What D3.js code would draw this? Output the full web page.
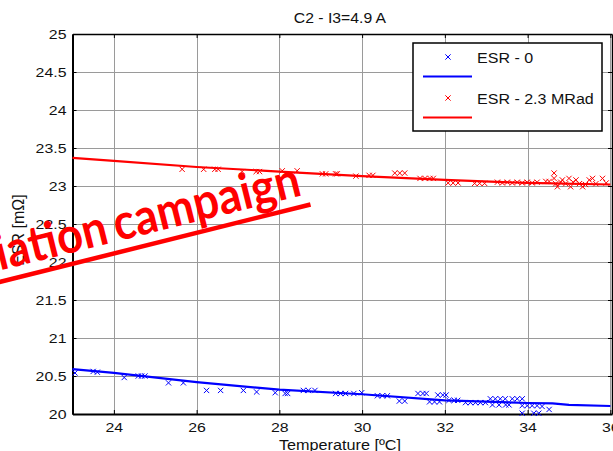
<!DOCTYPE html>
<html>
<head>
<meta charset="utf-8">
<script src="https://cdn.jsdelivr.net/npm/d3@7/dist/d3.min.js"></script>
<style>
  html, body { margin: 0; padding: 0; background: #fff; }
  svg { display: block; }
  text { font-family: "Liberation Sans", Arial, sans-serif; fill: #111; }
</style>
</head>
<body>
<svg id="chart" width="613" height="451"></svg>
<script>
// ESR versus temperature, capacitor C2 at I3 = 4.9 A
const titleText = "C2 - I3=4.9 A";
const xLabel = "Temperature [ºC]";
const yLabel = "ESR [mΩ]";
const xTicks = [24, 26, 28, 30, 32, 34, 36];
const yTicks = [20, 20.5, 21, 21.5, 22, 22.5, 23, 23.5, 24, 24.5, 25];

// Measured ESR before irradiation (series "ESR - 0")
const blueT = [23.06, 23.5, 23.6, 24.25, 24.59, 24.67, 24.75, 25.32, 25.68, 26.24, 26.58, 27.13,
  27.45, 27.9, 28.14, 28.2, 28.58, 28.7, 28.86, 29.36, 29.48, 29.6, 29.8, 29.99, 30.37, 30.49,
  30.61, 30.9, 31.03, 31.35, 31.47, 31.55, 31.63, 31.75, 31.87, 31.83, 31.95, 32.03, 32.1, 32.23,
  32.31, 32.5, 32.62, 32.74, 32.86, 32.98, 33.1, 33.22, 33.34, 33.46, 33.15, 33.31, 33.47, 33.55,
  33.63, 33.75, 33.87, 33.87, 33.99, 34.11, 34.23, 34.35, 33.87, 34.15, 34.27, 34.52];
const blueV = [20.54, 20.56, 20.55, 20.48, 20.50, 20.50, 20.50, 20.41, 20.41, 20.31, 20.31, 20.31,
  20.29, 20.28, 20.27, 20.27, 20.31, 20.31, 20.31, 20.27, 20.27, 20.27, 20.27, 20.28, 20.24, 20.24,
  20.24, 20.17, 20.17, 20.27, 20.27, 20.27, 20.16, 20.16, 20.16, 20.25, 20.25, 20.25, 20.18, 20.18,
  20.18, 20.15, 20.15, 20.15, 20.15, 20.15, 20.20, 20.20, 20.20, 20.20, 20.12, 20.12, 20.12, 20.12,
  20.20, 20.20, 20.20, 20.11, 20.11, 20.11, 20.11, 20.10, 20.01, 20.01, 20.01, 20.06];

// Measured ESR after 2.3 MRad (series "ESR - 2.3 MRad")
const redT = [25.65, 26.17, 26.44, 26.52, 27.1, 27.44, 27.52, 28.07, 28.43, 29.04, 29.12, 29.36,
  29.4, 29.85, 30.17, 30.26, 30.79, 30.91, 31.03, 31.4, 31.52, 31.64, 31.72, 32.08, 32.2, 32.32,
  32.72, 32.84, 32.96, 33.27, 33.39, 33.51, 33.63, 33.75, 33.87, 33.99, 34.11, 34.23, 34.44, 34.52,
  34.64, 34.64, 34.68, 34.72, 34.8, 34.84, 34.92, 35.0, 35.04, 35.1, 35.17, 35.25, 35.33, 35.4,
  35.49, 35.57, 35.65, 35.81, 35.9];
const redV = [23.22, 23.22, 23.22, 23.22, 23.19, 23.19, 23.19, 23.20, 23.20, 23.16, 23.16, 23.16,
  23.16, 23.13, 23.14, 23.14, 23.17, 23.17, 23.17, 23.10, 23.10, 23.10, 23.10, 23.04, 23.04, 23.04,
  23.035, 23.035, 23.035, 23.05, 23.04, 23.05, 23.04, 23.05, 23.04, 23.05, 23.04, 23.05, 23.06, 23.06,
  23.17, 23.10, 23.03, 22.99, 23.05, 23.08, 23.03, 23.10, 22.99, 23.05, 23.08, 23.03, 22.99, 23.02,
  23.08, 23.10, 23.03, 23.10, 23.04];

// Fitted curves
const blueFitT = [23, 24, 26, 28, 30, 32, 34, 34.6, 35, 36];
const blueFitV = [20.59, 20.54, 20.42, 20.32, 20.26, 20.18, 20.145, 20.14, 20.12, 20.105];
const redFitT = [23, 24, 26, 28, 30, 32, 34, 36];
const redFitV = [23.37, 23.33, 23.25, 23.19, 23.13, 23.08, 23.04, 23.02];

const seriesNames = ["ESR - 0", "ESR - 2.3 MRad"];
const seriesColors = ["#0000ff", "#ff0000"];
const stampText = "Irradiation campaign";

const svg = d3.select("#chart");
const L = 72.5, R = 612, T = 34, B = 414;
const x = d3.scaleLinear().domain([23, 36.04]).range([L, R]);
const y = d3.scaleLinear().domain([20, 25]).range([B, T]);
const numFmt = d => String(d);

// grid
const grid = svg.append("g").attr("stroke", "#9a9a9a").attr("stroke-width", 1);
grid.selectAll(".gx").data(xTicks).join("line")
  .attr("x1", d => Math.round(x(d)) + 0.5).attr("x2", d => Math.round(x(d)) + 0.5)
  .attr("y1", T).attr("y2", B);
grid.selectAll(".gy").data(yTicks.slice(1, -1)).join("line")
  .attr("x1", L).attr("x2", R)
  .attr("y1", d => Math.round(y(d)) + 0.5).attr("y2", d => Math.round(y(d)) + 0.5);

// axes
const sx = 1.22;
const gB = svg.append("g").attr("transform", `translate(0,${B})`)
  .call(d3.axisBottom(x).tickValues(xTicks).tickFormat(numFmt)
    .tickSize(-4).tickSizeOuter(0).tickPadding(9));
gB.selectAll("text").style("font-size", "13px").attr("transform", `scale(${sx},1)`);
const gL = svg.append("g").attr("transform", `translate(${L},0)`)
  .call(d3.axisLeft(y).tickValues(yTicks).tickFormat(numFmt)
    .tickSize(-4).tickSizeOuter(0).tickPadding(6));
gL.selectAll("text").style("font-size", "13px")
  .attr("x", -6 / sx).attr("transform", `scale(${sx},1)`);
svg.append("g").attr("transform", `translate(0,${T})`)
  .call(d3.axisTop(x).tickValues(xTicks).tickSize(-4).tickSizeOuter(0).tickFormat(""));
svg.append("g").attr("transform", `translate(${R},0)`)
  .call(d3.axisRight(y).tickValues(yTicks).tickSize(-4).tickSizeOuter(0).tickFormat(""));
svg.selectAll(".domain").attr("stroke", "#000").attr("stroke-width", 1.5);
svg.selectAll(".tick line").attr("stroke", "#000");
gB.select(".domain").attr("stroke-width", 2);
gL.select(".domain").attr("stroke-width", 2);

// fitted lines
const line = d3.line().x(d => x(d[0])).y(d => y(d[1]));
svg.append("path").datum(blueFitT.map((t, i) => [t, blueFitV[i]]))
  .attr("d", line).attr("fill", "none").attr("stroke", seriesColors[0]).attr("stroke-width", 2.2);
svg.append("path").datum(redFitT.map((t, i) => [t, redFitV[i]]))
  .attr("d", line).attr("fill", "none").attr("stroke", seriesColors[1]).attr("stroke-width", 2.2);

// markers
const cross = d3.symbol().type(d3.symbolX).size(20);
function drawMarkers(ts, vs, color) {
  svg.append("g").selectAll("path").data(ts.map((t, i) => [t, vs[i]])).join("path")
    .attr("d", cross).attr("transform", d => `translate(${x(d[0])},${y(d[1])})`)
    .attr("fill", "none").attr("stroke", color).attr("stroke-width", 1);
}
drawMarkers(blueT, blueV, seriesColors[0]);
drawMarkers(redT, redV, seriesColors[1]);

// title and axis labels
svg.append("text").attr("transform", "translate(340,23) scale(1.05,1)")
  .attr("text-anchor", "middle").style("font-size", "15px").text(titleText);
svg.append("text").attr("transform", "translate(340,450) scale(1.08,1)")
  .attr("text-anchor", "middle").style("font-size", "15px").text(xLabel);
svg.append("text").attr("transform", "translate(24,230) rotate(-90)")
  .attr("text-anchor", "middle").style("font-size", "16px").text(yLabel);

// legend
const lg = svg.append("g");
lg.append("rect").attr("x", 413).attr("y", 43).attr("width", 189).attr("height", 88)
  .attr("fill", "#fff").attr("stroke", "#000").attr("stroke-width", 1.5);
seriesNames.forEach((name, i) => {
  const yy = 57 + i * 41;
  lg.append("path").attr("d", cross).attr("transform", `translate(448,${yy})`)
    .attr("fill", "none").attr("stroke", seriesColors[i]).attr("stroke-width", 1);
  lg.append("line").attr("x1", 423).attr("x2", 472).attr("y1", yy + 19.5).attr("y2", yy + 19.5)
    .attr("stroke", seriesColors[i]).attr("stroke-width", 2.2);
  lg.append("text").attr("transform", `translate(477,${yy + 5.5}) scale(1.07,1)`)
    .style("font-size", "15px").text(name);
});

// stamp across the plot
const st = svg.append("g").attr("transform", "translate(303,195) rotate(-14)");
st.append("text").attr("text-anchor", "end").attr("transform", "scale(0.9,1)")
  .style("font-family", "Lato, 'Open Sans', sans-serif").style("font-weight", "700")
  .style("word-spacing", "-4px")
  .style("font-size", "50px").style("fill", "#ff0000").text(stampText);
st.append("line").attr("x1", -520).attr("x2", 5).attr("y1", 11).attr("y2", 11)
  .attr("stroke", "#ff0000").attr("stroke-width", 4.5);
</script>
</body>
</html>
